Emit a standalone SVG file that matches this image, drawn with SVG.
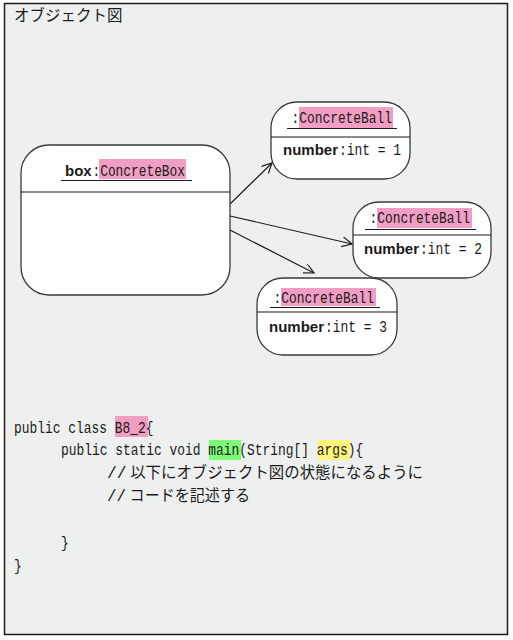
<svg xmlns="http://www.w3.org/2000/svg" width="513" height="640" viewBox="0 0 513 640">
<style>
.frame{fill:#eef0ef;stroke:#231815;stroke-width:1.5}
.node{fill:#fff;stroke:#3a3a3a;stroke-width:1.3}
.sep{stroke:#231815;stroke-width:1.2}
.ul{stroke:#231815;stroke-width:1.1}
.m{font-family:"Liberation Mono","DejaVu Sans Mono",monospace;font-size:16.5px;fill:#1a1a1a}
.b{font-family:"Liberation Sans",Arial,sans-serif;font-weight:bold;font-size:15px;fill:#1a1a1a}
.j{font-family:"Noto Sans CJK JP","Noto Sans CJK SC",sans-serif;font-size:15.5px;fill:#1a1a1a}
.pink{fill:#f19ec2}
.green{fill:#7dfb78}
.yellow{fill:#fff57a}
.conn{stroke:#231815;stroke-width:1.2;fill:none}
</style>
<defs>
<marker id="arr" markerUnits="userSpaceOnUse" markerWidth="12" markerHeight="12" refX="10" refY="5" orient="auto">
<path d="M0,0 L10,5 L0,10" fill="none" stroke="#231815" stroke-width="1.2"/>
</marker>
</defs>
<rect class="frame" x="4.5" y="3.5" width="503" height="631"/>
<text class="j" x="14" y="21">オブジェクト図</text>

<g id="connectors">
<line class="conn" x1="230" y1="204" x2="272" y2="163" marker-end="url(#arr)"/>
<line class="conn" x1="230" y1="216" x2="352" y2="244" marker-end="url(#arr)"/>
<line class="conn" x1="230" y1="230" x2="314" y2="273" marker-end="url(#arr)"/>
</g>

<g id="box">
<rect class="node" x="21" y="145" width="209" height="150" rx="28"/>
<line class="sep" x1="21" y1="192" x2="230" y2="192"/>
<rect class="pink" x="99" y="159" width="87" height="20"/>
<text class="b" x="65" y="176">box</text>
<text class="m" x="92.5" y="176" textLength="92.5" lengthAdjust="spacingAndGlyphs">:ConcreteBox</text>
<line class="ul" x1="61" y1="180.5" x2="192" y2="180.5"/>
</g>

<g id="ball1">
<rect class="node" x="271" y="102" width="139" height="77" rx="26"/>
<line class="sep" x1="271" y1="137" x2="410" y2="137"/>
<rect class="pink" x="299" y="107" width="94" height="21"/>
<text class="m" x="291.5" y="123" textLength="100.5" lengthAdjust="spacingAndGlyphs">:ConcreteBall</text>
<line class="ul" x1="287" y1="128.5" x2="397" y2="128.5"/>
<text class="b" x="283" y="155">number</text>
<text class="m" x="339" y="155" textLength="62" lengthAdjust="spacingAndGlyphs">:int = 1</text>
</g>

<g id="ball2">
<rect class="node" x="353" y="202" width="138" height="76" rx="26"/>
<line class="sep" x1="353" y1="235" x2="491" y2="235"/>
<rect class="pink" x="377" y="208" width="95" height="20"/>
<text class="m" x="369.5" y="223" textLength="100.5" lengthAdjust="spacingAndGlyphs">:ConcreteBall</text>
<line class="ul" x1="365" y1="229.5" x2="476" y2="229.5"/>
<text class="b" x="364" y="254">number</text>
<text class="m" x="420" y="254" textLength="62" lengthAdjust="spacingAndGlyphs">:int = 2</text>
</g>

<g id="ball3">
<rect class="node" x="257" y="278" width="140" height="77" rx="26"/>
<line class="sep" x1="257" y1="312" x2="397" y2="312"/>
<rect class="pink" x="281" y="288" width="95" height="18"/>
<text class="m" x="273.5" y="303" textLength="100.5" lengthAdjust="spacingAndGlyphs">:ConcreteBall</text>
<line class="ul" x1="270" y1="307.5" x2="380" y2="307.5"/>
<text class="b" x="269" y="332">number</text>
<text class="m" x="325" y="332" textLength="62" lengthAdjust="spacingAndGlyphs">:int = 3</text>
</g>

<g id="code">
<rect class="pink" x="115" y="416" width="33" height="21"/>
<rect class="green" x="209" y="440" width="32" height="20"/>
<rect class="yellow" x="318" y="440" width="32" height="20"/>
<text class="m" x="14" y="433" textLength="139.5" lengthAdjust="spacingAndGlyphs">public class B8_2{</text>
<text class="m" x="61" y="455" textLength="302.25" lengthAdjust="spacingAndGlyphs">public static void main(String[] args){</text>
<text class="j" x="107" y="478" textLength="316" lengthAdjust="spacingAndGlyphs"><tspan class="m">//</tspan> 以下にオブジェクト図の状態になるように</text>
<text class="j" x="107" y="501" textLength="143" lengthAdjust="spacingAndGlyphs"><tspan class="m">//</tspan> コードを記述する</text>
<text class="m" x="61" y="548" textLength="7.75" lengthAdjust="spacingAndGlyphs">}</text>
<text class="m" x="14" y="571" textLength="7.75" lengthAdjust="spacingAndGlyphs">}</text>
</g>
</svg>
